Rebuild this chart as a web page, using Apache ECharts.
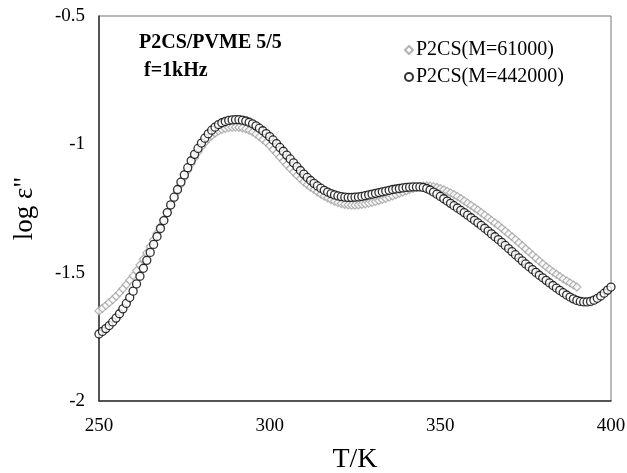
<!DOCTYPE html>
<html>
<head>
<meta charset="utf-8">
<script src="https://cdn.jsdelivr.net/npm/echarts@6/dist/echarts.min.js"></script>
<style>
  html, body { margin: 0; padding: 0; background: #fff; }
  #chart { width: 627px; height: 473px; }
</style>
</head>
<body>
<div id="chart"></div>
<script>
// T/K 从 250 开始，每 1 K 一个点
const tStart = 250;

// P2CS(M=61000)，250 ~ 390 K
const logEps61000 = [
  -1.649, -1.639, -1.628, -1.617, -1.605, -1.592, -1.578, -1.563, -1.547, -1.530,
  -1.512, -1.492, -1.470, -1.447, -1.423, -1.398, -1.372, -1.346, -1.320, -1.294,
  -1.267, -1.240, -1.212, -1.184, -1.156, -1.129, -1.102, -1.076, -1.052, -1.030,
  -1.010, -0.993, -0.978, -0.966, -0.956, -0.948, -0.942, -0.938, -0.935, -0.933,
  -0.933, -0.934, -0.936, -0.940, -0.945, -0.952, -0.960, -0.970, -0.981, -0.992,
  -1.005, -1.020, -1.035, -1.050, -1.065, -1.080, -1.094, -1.108, -1.121, -1.134,
  -1.146, -1.157, -1.167, -1.176, -1.185, -1.194, -1.202, -1.209, -1.216, -1.222,
  -1.227, -1.231, -1.234, -1.236, -1.237, -1.237, -1.236, -1.234, -1.232, -1.229,
  -1.226, -1.223, -1.219, -1.215, -1.211, -1.206, -1.201, -1.196, -1.191, -1.186,
  -1.181, -1.176, -1.172, -1.168, -1.165, -1.163, -1.162, -1.163, -1.165, -1.168,
  -1.172, -1.177, -1.183, -1.189, -1.196, -1.203, -1.211, -1.220, -1.229, -1.238,
  -1.247, -1.256, -1.266, -1.276, -1.286, -1.296, -1.306, -1.316, -1.327, -1.338,
  -1.349, -1.360, -1.371, -1.383, -1.395, -1.407, -1.419, -1.431, -1.443, -1.455,
  -1.466, -1.477, -1.487, -1.497, -1.506, -1.515, -1.524, -1.532, -1.540, -1.548,
  -1.556
];

// P2CS(M=442000)，250 ~ 400 K
const logEps442000 = [
  -1.739, -1.729, -1.718, -1.706, -1.692, -1.677, -1.660, -1.641, -1.620, -1.597,
  -1.572, -1.544, -1.514, -1.483, -1.452, -1.421, -1.390, -1.359, -1.328, -1.297,
  -1.266, -1.236, -1.206, -1.176, -1.147, -1.119, -1.091, -1.064, -1.039, -1.016,
  -0.995, -0.976, -0.959, -0.945, -0.933, -0.923, -0.916, -0.911, -0.907, -0.905,
  -0.904, -0.904, -0.906, -0.909, -0.914, -0.920, -0.928, -0.937, -0.947, -0.958,
  -0.970, -0.983, -0.997, -1.012, -1.027, -1.042, -1.057, -1.072, -1.087, -1.102,
  -1.116, -1.129, -1.141, -1.152, -1.162, -1.171, -1.179, -1.186, -1.192, -1.197,
  -1.201, -1.204, -1.206, -1.207, -1.207, -1.206, -1.205, -1.203, -1.200, -1.197,
  -1.194, -1.191, -1.188, -1.185, -1.182, -1.179, -1.176, -1.174, -1.172, -1.170,
  -1.168, -1.167, -1.166, -1.166, -1.166, -1.168, -1.172, -1.178, -1.186, -1.194,
  -1.203, -1.212, -1.221, -1.230, -1.239, -1.248, -1.257, -1.266, -1.276, -1.286,
  -1.296, -1.306, -1.316, -1.327, -1.338, -1.349, -1.360, -1.371, -1.382, -1.394,
  -1.406, -1.418, -1.430, -1.442, -1.454, -1.466, -1.477, -1.488, -1.499, -1.510,
  -1.520, -1.530, -1.540, -1.550, -1.560, -1.569, -1.578, -1.587, -1.595, -1.602,
  -1.608, -1.612, -1.614, -1.614, -1.612, -1.607, -1.600, -1.591, -1.580, -1.568,
  -1.556
];

const xTicks = [250, 300, 350, 400];
const yTicks = [-2, -1.5, -1, -0.5];

const font = "'Liberation Serif', 'Times New Roman', serif";

let toPairs = (arr) => arr.map((v, i) => [tStart + i, v]);

let option = {
  backgroundColor: '#fff',
  animation: false,
  textStyle: { fontFamily: font },
  title: [
    {
      text: 'P2CS/PVME 5/5',
      left: 134, top: 28,
      textStyle: { fontFamily: font, fontSize: 20, fontWeight: 'bold', color: '#000' }
    },
    {
      text: 'f=1kHz',
      left: 139, top: 56,
      textStyle: { fontFamily: font, fontSize: 20, fontWeight: 'bold', color: '#000' }
    }
  ],
  legend: {
    orient: 'vertical',
    left: 399, top: 35,
    itemWidth: 8, itemHeight: 8,
    itemGap: 7,
    textStyle: { fontFamily: font, fontSize: 20, color: '#000', padding: [0, 0, 0, -2] },
    data: ['P2CS(M=61000)', 'P2CS(M=442000)']
  },
  grid: {
    left: 99, right: 16, top: 16, bottom: 72,
    outerBoundsMode: 'none',
    show: true, borderColor: '#777', borderWidth: 1
  },
  xAxis: {
    type: 'value',
    min: xTicks[0], max: xTicks[xTicks.length - 1], interval: 50,
    name: 'T/K', nameLocation: 'middle', nameGap: 45,
    nameTextStyle: { fontFamily: font, fontSize: 28, color: '#000' },
    axisLine: { lineStyle: { color: '#333', width: 1.5 } },
    axisTick: { show: false },
    splitLine: { show: false },
    axisLabel: { fontFamily: font, fontSize: 19, color: '#000', margin: 16 }
  },
  yAxis: {
    type: 'value',
    min: yTicks[0], max: yTicks[yTicks.length - 1], interval: 0.5,
    name: 'log ε"', nameLocation: 'middle', nameGap: 61,
    nameTextStyle: { fontFamily: font, fontSize: 27, color: '#000' },
    axisLine: { show: true, lineStyle: { color: '#333', width: 1.5 } },
    axisTick: { show: false },
    splitLine: { show: false },
    axisLabel: { fontFamily: font, fontSize: 19, color: '#000', margin: 14 }
  },
  series: [
    {
      name: 'P2CS(M=61000)',
      type: 'scatter',
      symbol: 'diamond',
      symbolSize: 8,
      itemStyle: { color: '#fff', borderColor: '#a0a0a0', borderWidth: 1.2 },
      data: toPairs(logEps61000)
    },
    {
      name: 'P2CS(M=442000)',
      type: 'scatter',
      symbol: 'circle',
      symbolSize: 8,
      itemStyle: { color: '#fff', borderColor: '#000', borderWidth: 1.3 },
      data: toPairs(logEps442000)
    }
  ]
};

let chart = echarts.init(document.getElementById('chart'));
chart.setOption(option);
</script>
</body>
</html>
